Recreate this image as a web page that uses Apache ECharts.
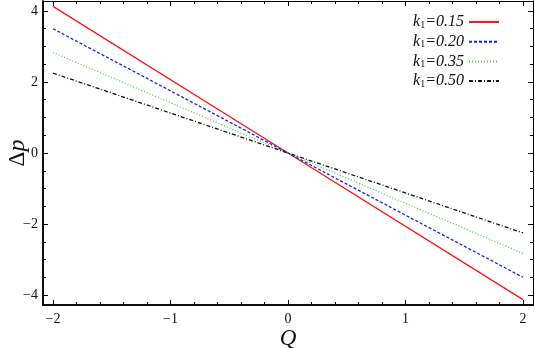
<!DOCTYPE html>
<html>
<head>
<meta charset="utf-8">
<script src="https://cdn.jsdelivr.net/npm/echarts@6/dist/echarts.min.js"></script>
<style>
  html, body { margin: 0; padding: 0; background: #fff; }
  #main { width: 535px; height: 348px; }
</style>
</head>
<body>
<div id="main"></div>
<script>
// values
var kLabels = ['0.15', '0.20', '0.35', '0.50'];
var line015 = [[-2, 4.13], [0, 0], [2, -4.13]];
var line020 = [[-2, 3.5], [0, 0], [2, -3.5]];
var line035 = [[-2, 2.83], [0, 0], [2, -2.83]];
var line050 = [[-2, 2.25], [0, 0], [2, -2.25]];

var xMajor = [-2, -1, 0, 1, 2];
var xMinor = [-2, -1.8, -1.6, -1.4, -1.2, -1, -0.8, -0.6, -0.4, -0.2, 0, 0.2, 0.4, 0.6, 0.8, 1, 1.2, 1.4, 1.6, 1.8, 2];
var yMajor = [-4, -2, 0, 2, 4];
var yMinor = [-4, -3.5, -3, -2.5, -2, -1.5, -1, -0.5, 0, 0.5, 1, 1.5, 2, 2.5, 3, 3.5, 4];

var chart = echarts.init(document.getElementById('main'));
var serif = 'Liberation Serif';
var minus = function (v) { return String(v).replace('-', '\u2212'); };

function xAx(pos, ticks, len, withLabels) {
  return {
    type: 'value', position: pos, min: -2.085, max: 2.085,
    axisLine: { show: true, onZero: false, lineStyle: { color: '#000', width: pos === 'bottom' ? 1.5 : 1 } },
    axisTick: { show: true, inside: true, length: len, customValues: ticks, lineStyle: { color: '#000' } },
    axisLabel: withLabels ? { show: true, customValues: xMajor, formatter: minus, fontFamily: serif, fontSize: 14, color: '#111', margin: 7 } : { show: false },
    splitLine: { show: false }
  };
}
function yAx(pos, ticks, len, withLabels) {
  return {
    type: 'value', position: pos, min: -4.28, max: 4.28,
    axisLine: { show: true, onZero: false, lineStyle: { color: '#000', width: pos === 'left' ? 1.5 : 1 } },
    axisTick: { show: true, inside: true, length: len, customValues: ticks, lineStyle: { color: '#000' } },
    axisLabel: withLabels ? { show: true, customValues: yMajor, formatter: minus, fontFamily: serif, fontSize: 14, color: '#111', margin: 5 } : { show: false },
    splitLine: { show: false }
  };
}

var xb = xAx('bottom', xMajor, 5, true);
xb.name = 'Q';
xb.nameLocation = 'middle';
xb.nameGap = 22;
xb.nameMoveOverlap = false;
xb.nameTextStyle = { fontFamily: serif, fontStyle: 'italic', fontSize: 23, color: '#111' };
var yl = yAx('left', yMajor, 5, true);
yl.name = '{d|\u0394}{p|p}';
yl.nameLocation = 'middle';
yl.nameGap = 13;
yl.nameRotate = 90;
yl.nameMoveOverlap = false;
yl.nameTextStyle = { rich: {
  d: { fontFamily: serif, fontSize: 23, color: '#111' },
  p: { fontFamily: serif, fontStyle: 'italic', fontSize: 24, color: '#111' }
} };

function mk(name, data, color, type) {
  return {
    name: name, type: 'line', data: data, symbol: 'none', showSymbol: false,
    xAxisIndex: 0, yAxisIndex: 0, animation: false,
    lineStyle: { color: color, width: 1.3, type: type },
    itemStyle: { color: color }
  };
}

var option = {
  backgroundColor: '#fff',
  grid: { left: 43, top: 1, width: 490, height: 304, containLabel: false, outerBoundsMode: 'none' },
  legend: {
    orient: 'vertical', right: 30, top: 7, align: 'right',
    itemWidth: 30, itemHeight: 14, itemGap: 1.7,
    data: kLabels,
    itemStyle: { opacity: 0 },
    formatter: function (n) { return '{i|k}{s|1}{i|=' + n + '}'; },
    textStyle: {
      rich: {
        i: { fontFamily: serif, fontStyle: 'italic', fontSize: 16, lineHeight: 16, verticalAlign: 'top', color: '#111' },
        s: { fontFamily: serif, fontSize: 10, lineHeight: 10, color: '#111', verticalAlign: 'bottom', padding: [8, 0, 0, 0] }
      }
    }
  },
  xAxis: [xb, xAx('bottom', xMinor, 3, false), xAx('top', xMajor, 5, false), xAx('top', xMinor, 3, false)],
  yAxis: [yl, yAx('left', yMinor, 3, false), yAx('right', yMajor, 5, false), yAx('right', yMinor, 3, false)],
  series: [
    mk(kLabels[0], line015, '#ff1414', 'solid'),
    mk(kLabels[1], line020, '#1a1aff', [3, 2]),
    mk(kLabels[2], line035, '#5cc45c', [1, 2]),
    mk(kLabels[3], line050, '#111111', [4, 2, 1, 2])
  ]
};
chart.setOption(option);
</script>
</body>
</html>
